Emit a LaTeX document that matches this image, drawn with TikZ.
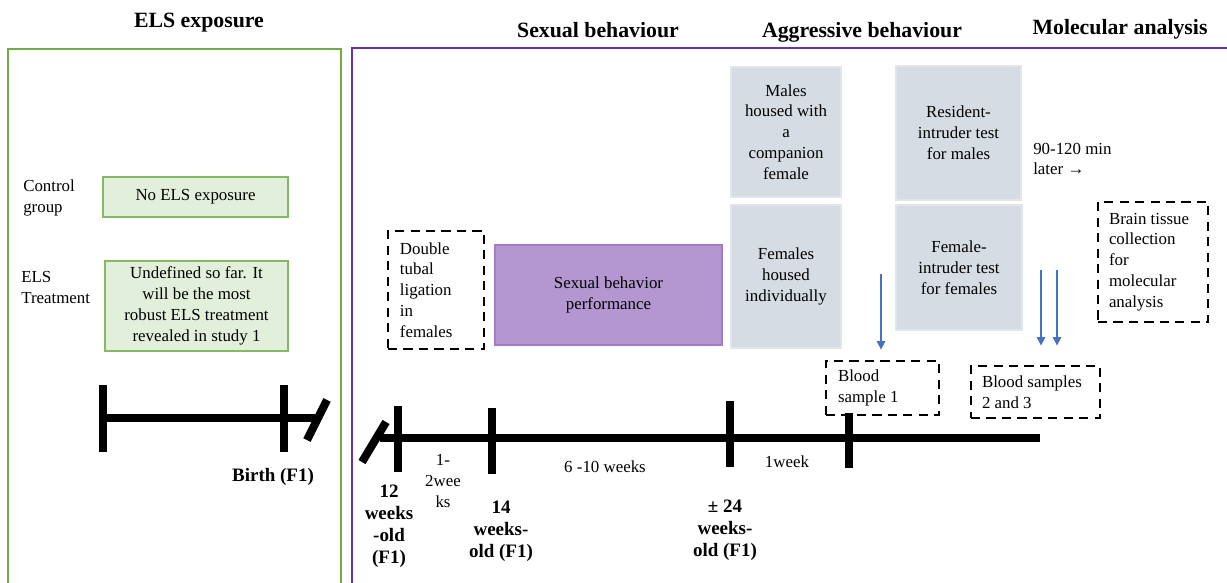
\documentclass[tikz,border=0pt]{standalone}
\usepackage{fontspec}
\setmainfont{Liberation Serif}
\usepackage{tikz}
\usetikzlibrary{arrows.meta,positioning}

\definecolor{elsgreen}{HTML}{70AD47}
\definecolor{elsfill}{HTML}{E2EFDA}
\definecolor{behpurple}{HTML}{7030A0}
\definecolor{sexfill}{HTML}{B497D0}
\definecolor{sexline}{HTML}{A47BCB}
\definecolor{aggfill}{HTML}{D6DCE4}
\definecolor{aggline}{HTML}{E2E6EC}
\definecolor{arrblue}{HTML}{4472C4}

\begin{document}
\begin{tikzpicture}[x=0.025cm, y=-0.025cm,
    every node/.style={font=\fontsize{12}{14.8}\selectfont, inner sep=0pt},
    title/.style={font=\fontsize{15.5}{18}\selectfont\bfseries},
    agelabel/.style={font=\fontsize{13.5}{15.6}\selectfont\bfseries, align=center},
    elsbox/.style={draw=elsgreen!85, fill=elsfill, line width=1.2pt, align=center},
    sexbox/.style={draw=sexline, fill=sexfill, line width=1pt, align=center},
    aggbox/.style={draw=aggline, fill=aggfill, line width=1pt, align=center},
    dashbox/.style={draw, line width=2pt, dash pattern=on 6.5pt off 4.5pt, align=flush left},
    tline/.style={line width=5.8pt},
    bluearrow/.style={draw=arrblue, line width=0.9pt, -{Triangle[width=6pt,length=6pt]}}
  ]
  \useasboundingbox (0,0) rectangle (1227,583);
  \clip (0,0) rectangle (1227,583);

  % frames
  \draw[elsgreen, line width=2pt] (8,49) rectangle (341,620);
  \draw[behpurple, line width=2pt] (352,48) rectangle (1260,620);

  \node[title] (elstitle) at (199,23) {ELS exposure};
  \node[title] (sextitle) at (598,30) {Sexual behaviour};
  \node[title] (aggtitle) at (862,32) {Aggressive behaviour};
  \node[title] (moltitle) at (1120,29) {Molecular analysis};

  % ELS groups
  \node[anchor=west, align=left] (ctrl) at (23,198) {Control\\group};
  \node[anchor=west, align=left] (treat) at (21,287.5) {ELS\\Treatment};
  \node[elsbox, minimum width=4.625cm, minimum height=1cm] (noels) at (195.5,197) {No ELS exposure};
  \node[elsbox, minimum width=4.575cm, minimum height=2.25cm] (undef) at (196.5,306)
    {Undefined so far. It\\will be the most\\robust ELS treatment\\revealed in study 1};

  % left timeline
  \draw[tline] (103,418) -- (315,418);
  \draw[tline] (103,385) -- (103,452);
  \draw[tline] (284,385) -- (284,452);
  \draw[tline] (307,440) -- (327,400);
  \node[agelabel] (birth) at (273,477) {Birth (F1)};

  % behaviour boxes
  \node[dashbox, minimum width=2.4cm, minimum height=2.95cm, text width=1.8cm, inner xsep=0.3cm] (ligation) at (436,290)
    {Double\\tubal\\ligation\\in\\females};
  \node[sexbox, minimum width=5.675cm, minimum height=2.5cm] (sexperf) at (608.5,295)
    {Sexual behavior\\performance};
  \node[aggbox, minimum width=2.75cm, minimum height=3.25cm] (males) at (786,132)
    {Males\\housed with\\a\\companion\\female};
  \node[aggbox, minimum width=2.75cm, minimum height=3.575cm] (females) at (786,276.5)
    {Females\\housed\\individually};
  \node[aggbox, minimum width=3.125cm, minimum height=3.35cm] (resint) at (958.5,133)
    {Resident-\\intruder test\\for males};
  \node[aggbox, minimum width=3.15cm, minimum height=3.125cm] (femint) at (959,267.5)
    {Female-\\intruder test\\for females};
  \node[anchor=west, align=left] (later) at (1033,159) {90-120 min\\later →};
  \node[dashbox, minimum width=2.75cm, minimum height=3cm, text width=2.2cm, inner xsep=0.275cm] (brain) at (1153,262)
    {Brain tissue\\collection\\for\\molecular\\analysis};
  \node[dashbox, minimum width=2.825cm, minimum height=1.35cm, text width=2.225cm, inner xsep=0.3cm] (bsone) at (882.5,388)
    {Blood\\sample 1};
  \node[dashbox, minimum width=3.225cm, minimum height=1.3cm, text width=2.675cm, inner xsep=0.275cm] (bstwo) at (1035.5,392)
    {Blood samples\\2 and 3};

  % blood sampling arrows
  \coordinate (bsonestart) at (881,274);
  \coordinate (bstwostart) at (1041,270);
  \coordinate (bsthreestart) at (1057,270);
  \draw[bluearrow, shorten >=0.25cm] (bsonestart) -- (bsonestart |- bsone.north);
  \draw[bluearrow, shorten >=0.475cm] (bstwostart) -- (bstwostart |- bstwo.north);
  \draw[bluearrow, shorten >=0.475cm] (bsthreestart) -- (bsthreestart |- bstwo.north);

  % main timeline
  \draw[tline] (380,438) -- (1040,438);
  \draw[tline] (362,462) -- (386,422);
  \draw[tline] (398,406) -- (398,472);
  \draw[tline] (492,408) -- (492,474);
  \draw[tline] (730,401) -- (730,467);
  \draw[tline] (849,413) -- (849,468);

  \node[agelabel] (wktwelve) at (389,526) {12\\weeks\\-old\\(F1)};
  \node[align=center] (onetwo) at (443,481) {1-\\2wee\\ks};
  \node[agelabel] (wkfourteen) at (501,531) {14\\weeks-\\old (F1)};
  \node (sixten) at (605,467) {6 -10 weeks};
  \node[agelabel] (wktwentyfour) at (725,530) {± 24\\weeks-\\old (F1)};
  \node (oneweek) at (787,462) {1week};
\end{tikzpicture}
\end{document}
